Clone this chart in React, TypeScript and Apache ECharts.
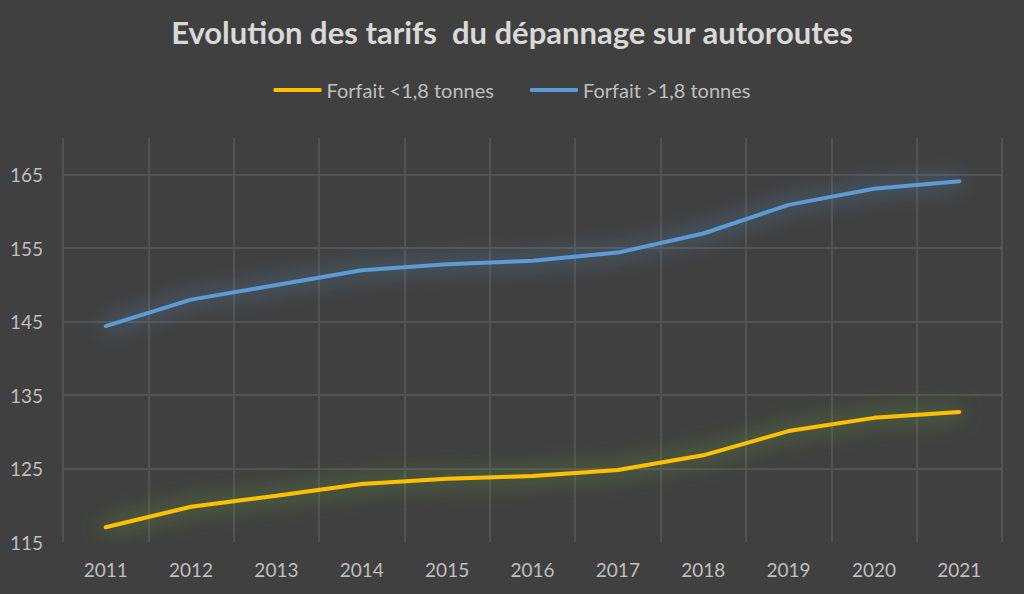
import React, { useEffect, useRef } from "react";
import * as echarts from "echarts";

const years = ["2011", "2012", "2013", "2014", "2015", "2016", "2017", "2018", "2019", "2020", "2021"];
const lightValues = [117.0, 119.8, 121.3, 122.9, 123.6, 124.0, 124.8, 126.8, 130.1, 131.9, 132.7];
const heavyValues = [144.4, 148.0, 150.0, 152.0, 152.8, 153.3, 154.4, 157.0, 160.9, 163.1, 164.1];
const seriesNames = ["Forfait <1,8 tonnes", "Forfait >1,8 tonnes"];
const titleText = "Evolution des tarifs  du dépannage sur autoroutes";
const yMin = 115;
const yMax = 170;
const yLabelStep = 10;

const GRID = "#595959";
const FONT = "Lato, 'Open Sans', sans-serif";

export default function App() {
  const ref = useRef<HTMLDivElement>(null);
  useEffect(() => {
    if (!ref.current) return;
    const chart = echarts.init(ref.current, null, { renderer: "svg" });
    // ticks every 5 from yMin to yMax; only those at yMin + k*10 (k>=1) get a grid line
    const tickCount = Math.round((yMax - yMin) / 5) + 1;
    const splitColors: string[] = [];
    for (let i = 0; i < tickCount; i++) {
      const v = yMin + i * 5;
      splitColors.push(v > yMin && v < yMax && (v - yMin) % yLabelStep === 0 ? GRID : "rgba(0,0,0,0)");
    }
    chart.setOption({
      animation: false,
      backgroundColor: "#404040",
      textStyle: { fontFamily: FONT },
      title: {
        text: titleText,
        left: "center",
        top: 11,
        textStyle: { color: "#d9d9d9", fontSize: 31, fontWeight: "bold", fontFamily: FONT },
      },
      legend: {
        top: 75,
        left: "center",
        itemWidth: 48,
        itemHeight: 4,
        itemGap: 36,
        icon: "roundRect",
        textStyle: { color: "#bfbfbf", fontSize: 20, fontFamily: FONT },
        data: seriesNames,
      },
      grid: { left: 63, right: 22, top: 138, bottom: 52, containLabel: false },
      xAxis: {
        type: "category",
        data: years,
        boundaryGap: true,
        axisLine: { show: false },
        axisTick: { show: false },
        axisLabel: { color: "#bfbfbf", fontSize: 19, margin: 18, fontFamily: FONT },
        splitLine: { show: true, lineStyle: { color: GRID, width: 1.5 } },
      },
      yAxis: {
        type: "value",
        min: yMin,
        max: yMax,
        interval: 5,
        axisLine: { show: false },
        axisTick: { show: false },
        axisLabel: {
          color: "#bfbfbf",
          fontSize: 19,
          margin: 20,
          fontFamily: FONT,
          formatter: (v: number) => ((v - yMin) % yLabelStep === 0 && v < yMax ? String(v) : ""),
        },
        splitLine: { show: true, lineStyle: { color: splitColors, width: 1.5 } },
      },
      series: [
        {
          name: seriesNames[0],
          type: "line",
          data: lightValues,
          showSymbol: false,
          symbol: "none",
          itemStyle: { color: "#ffc000" },
          lineStyle: {
            color: "#ffc000",
            width: 4,
            cap: "round",
            shadowColor: "rgba(110,190,50,1)",
            shadowBlur: 22,
          },
        },
        {
          name: seriesNames[1],
          type: "line",
          data: heavyValues,
          showSymbol: false,
          symbol: "none",
          itemStyle: { color: "#5b9bd5" },
          lineStyle: {
            color: "#5b9bd5",
            width: 4,
            cap: "round",
            shadowColor: "rgba(91,155,213,1)",
            shadowBlur: 22,
          },
        },
      ],
    });
    return () => chart.dispose();
  }, []);
  return <div ref={ref} style={{ position: "fixed", left: 0, top: 0, width: 1024, height: 594 }} />;
}
